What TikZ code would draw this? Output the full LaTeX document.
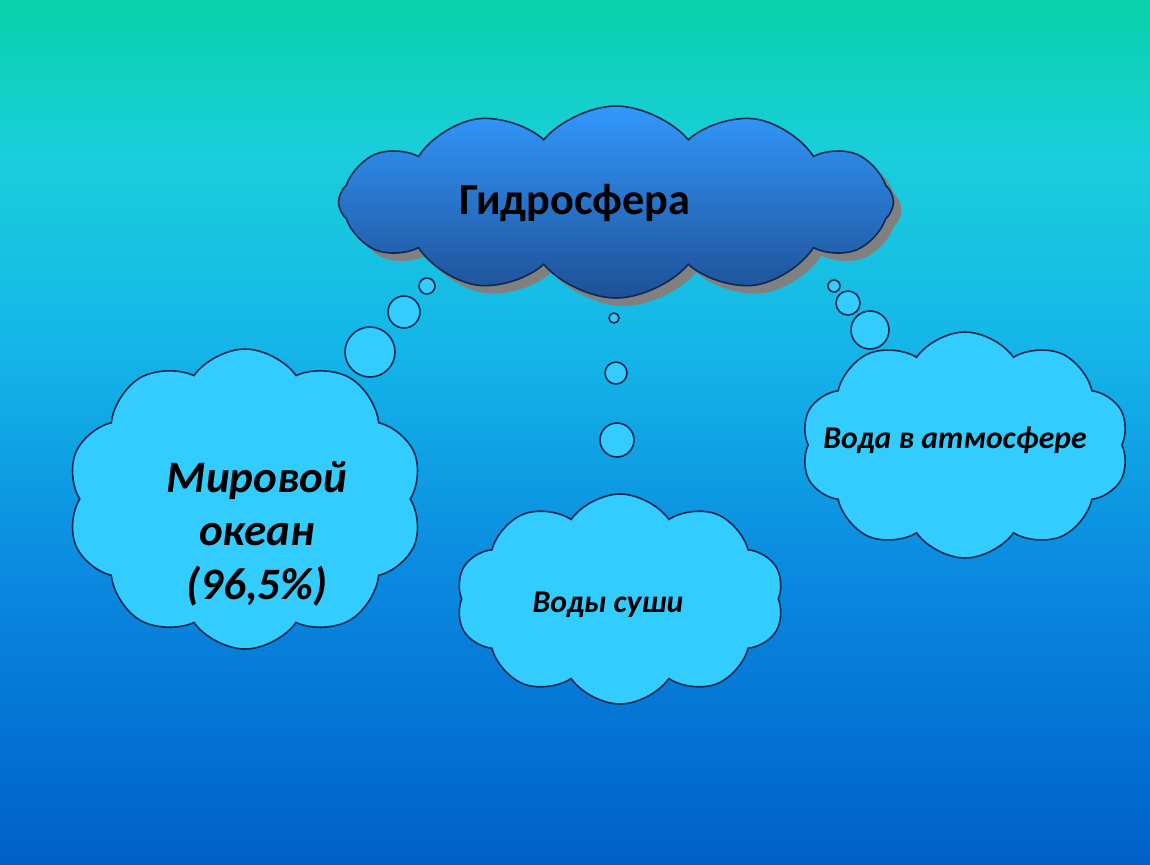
\documentclass[tikz,border=0pt]{standalone}
\usepackage{fontspec}
\setmainfont{Carlito}
\usetikzlibrary{shapes.symbols}
\usetikzlibrary{shadows}

\definecolor{skyblue}{RGB}{51,204,255}
\definecolor{edge}{RGB}{15,40,80}
\definecolor{cloudtop}{RGB}{50,152,252}
\definecolor{cloudbot}{RGB}{30,80,150}
\definecolor{bgtop}{RGB}{8,210,170}
\definecolor{bgup}{RGB}{26,206,220}
\definecolor{bgmid}{RGB}{20,182,232}
\definecolor{bglow}{RGB}{10,138,224}
\definecolor{bgbot}{RGB}{0,96,200}

% path fills the middle half (25bp..75bp) of the shading
\pgfdeclareverticalshading{sky}{100bp}{color(0bp)=(bgbot); color(25bp)=(bgbot);
  color(42bp)=(bglow); color(55bp)=(bgmid); color(66bp)=(bgup);
  color(75bp)=(bgtop); color(100bp)=(bgtop)}

\tikzset{
  puff/.style={cloud, cloud puffs=10, cloud puff arc=110, cloud ignores aspect,
    draw=edge, line width=0.45pt, fill=skyblue, inner sep=0pt},
  bubble/.style={circle, draw=edge, line width=0.45pt, fill=skyblue, inner sep=0pt},
  lbl/.style={align=center, font=\bfseries\itshape},
}

\begin{document}
\begin{tikzpicture}[x=0.1mm, y=-0.1mm]
    \useasboundingbox (0,0) rectangle (1150,864);
    \shade[shading=sky] (0,0) rectangle (1150,864);

    % main cloud
    \node[puff, cloud puffs=12, cloud puff arc=100, top color=cloudtop, bottom color=cloudbot,
      minimum width=5.55cm, minimum height=1.92cm,
      general shadow={fill=gray, shadow xshift=0.8mm, shadow yshift=-0.8mm}] (hydro) at (616,202) {};
    \node[font=\bfseries\fontsize{12.6}{15}\selectfont] (hydrotxt) at (575,203) {Гидросфера};

    % thought bubbles
    \node[bubble, minimum size=1.6mm] (l1) at (427,286) {};
    \node[bubble, minimum size=3.2mm] (l2) at (404,312) {};
    \node[bubble, minimum size=5.0mm] (l3) at (370,352) {};
    \node[bubble, minimum size=1.0mm] (m1) at (614,318) {};
    \node[bubble, minimum size=2.2mm] (m2) at (616,373) {};
    \node[bubble, minimum size=3.4mm] (m3) at (617,440) {};
    \node[bubble, minimum size=1.2mm] (r1) at (834,286) {};
    \node[bubble, minimum size=2.4mm] (r2) at (848,303) {};
    \node[bubble, minimum size=3.8mm] (r3) at (870,330) {};

    % three clouds
    \node[puff, minimum width=3.56cm, minimum height=3.0cm] (ocean) at (245,499) {};
    \node[lbl, font=\bfseries\itshape\fontsize{12.8}{15.3}\selectfont] (oceantxt) at (257,534) {Мировой\\океан\\(96,5\%)};
    \node[puff, minimum width=3.28cm, minimum height=2.1cm] (land) at (620,599) {};
    \node[lbl, font=\bfseries\itshape\fontsize{9}{11}\selectfont] (landtxt) at (608,605) {Воды суши};
    \node[puff, minimum width=3.28cm, minimum height=2.26cm] (air) at (965,445) {};
    \node[lbl, font=\bfseries\itshape\fontsize{9}{11}\selectfont] (airtxt) at (955,440) {Вода в атмосфере};
\end{tikzpicture}
\end{document}
